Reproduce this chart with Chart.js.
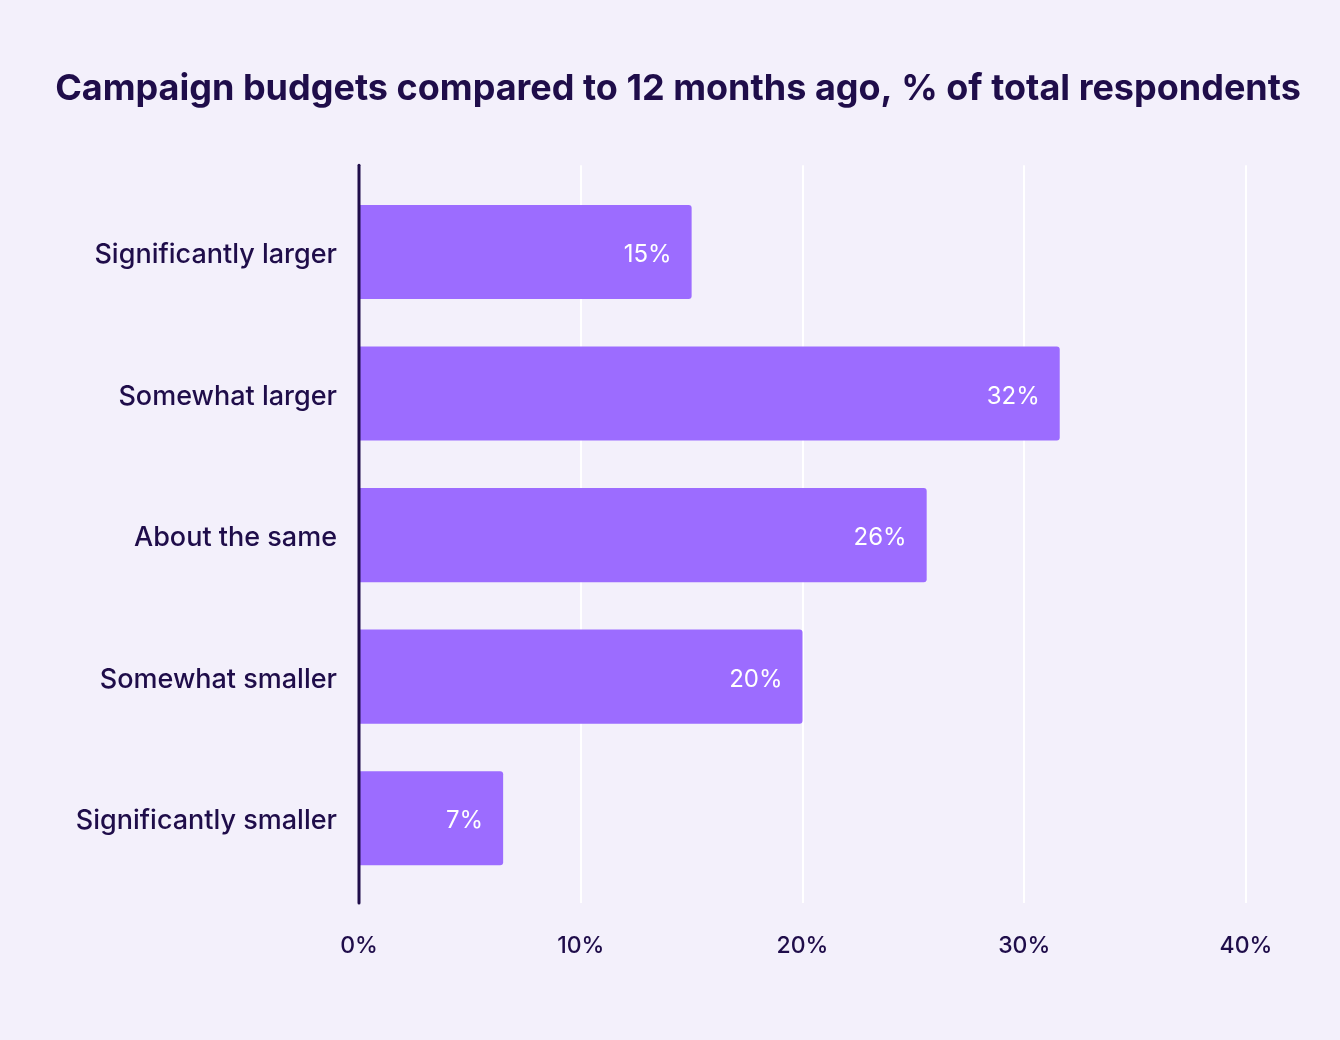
<!DOCTYPE html>
<html>
<head>
<meta charset="utf-8">
<script src="https://cdn.jsdelivr.net/npm/chart.js@4.4.1/dist/chart.umd.min.js"></script>
<style>
  html, body { margin: 0; padding: 0; background: #f3f0fb; }
  #wrap { width: 1340px; height: 1040px; }
</style>
</head>
<body>
<div id="wrap"><canvas id="c" width="1340" height="1040"></canvas></div>
<script>
const categories = ["Significantly larger", "Somewhat larger", "About the same", "Somewhat smaller", "Significantly smaller"];
const values = [15, 31.6, 25.6, 20, 6.5];
const xTicks = [0, 10, 20, 30, 40];
const titleText = "Campaign budgets compared to 12 months ago, % of total respondents";

const INK = "#1f0d4a";
const BAR = "#9c6cff";

const decor = {
  id: "decor",
  beforeDatasetsDraw(chart) {
    const { ctx, chartArea, scales } = chart;
    ctx.save();
    ctx.strokeStyle = "#ffffff";
    ctx.lineWidth = 2;
    xTicks.forEach(t => {
      if (t === 0) return;
      const x = Math.round(scales.x.getPixelForValue(t));
      ctx.beginPath();
      ctx.moveTo(x, chartArea.top - 16);
      ctx.lineTo(x, chartArea.bottom + 14);
      ctx.stroke();
    });
    ctx.restore();
  },
  afterDatasetsDraw(chart) {
    const { ctx, chartArea, scales } = chart;
    ctx.save();
    const meta = chart.getDatasetMeta(0);
    ctx.fillStyle = "#ffffff";
    ctx.font = "400 24px Inter, 'Open Sans', sans-serif";
    ctx.textAlign = "right";
    ctx.textBaseline = "middle";
    meta.data.forEach((bar, i) => {
      ctx.fillText(Math.round(values[i]) + "%", bar.x - 20, bar.y + 3);
    });
    const x0 = scales.x.getPixelForValue(0);
    ctx.strokeStyle = INK;
    ctx.lineWidth = 3;
    ctx.lineCap = "round";
    ctx.beginPath();
    ctx.moveTo(x0, chartArea.top - 16);
    ctx.lineTo(x0, chartArea.bottom + 14);
    ctx.stroke();
    ctx.restore();
  }
};

new Chart(document.getElementById("c"), {
  type: "bar",
  data: {
    labels: categories,
    datasets: [{
      data: values,
      backgroundColor: BAR,
      borderRadius: 3,
      borderSkipped: "start",
      categoryPercentage: 1,
      barPercentage: 0.665,
      yAxisID: "y"
    }]
  },
  options: {
    indexAxis: "y",
    responsive: false,
    animation: false,
    devicePixelRatio: 1,
    layout: { padding: { left: 16, right: 0, top: 0, bottom: 0 } },
    plugins: {
      legend: { display: false },
      tooltip: { enabled: false },
      title: {
        display: true,
        text: titleText,
        color: INK,
        font: { family: "Inter, 'Open Sans', sans-serif", size: 36, weight: "700", lineHeight: 1.2 },
        padding: { top: 68, bottom: 70 }
      }
    },
    scales: {
      x: {
        type: "linear",
        min: 0,
        max: 40,
        afterBuildTicks(scale) { scale.ticks = xTicks.map(v => ({ value: v })); },
        afterFit(scale) { scale.height = 151; },
        grid: { display: false, drawTicks: false },
        border: { display: false },
        ticks: {
          color: INK,
          padding: 43,
          font: { family: "Inter, 'Open Sans', sans-serif", size: 23, weight: "500" },
          callback: v => v + "%"
        }
      },
      y: {
        position: "left",
        afterFit(scale) { scale.width = 343; },
        grid: { display: false, drawTicks: false },
        border: { display: false },
        ticks: {
          color: INK,
          padding: 22,
          labelOffset: 3,
          font: { family: "Inter, 'Open Sans', sans-serif", size: 27, weight: "500" }
        }
      },
      yRight: {
        type: "category",
        position: "right",
        labels: categories,
        display: true,
        afterFit(scale) { scale.width = 94; },
        grid: { display: false, drawTicks: false },
        border: { display: false },
        ticks: { display: false }
      }
    }
  },
  plugins: [decor]
});
</script>
</body>
</html>
